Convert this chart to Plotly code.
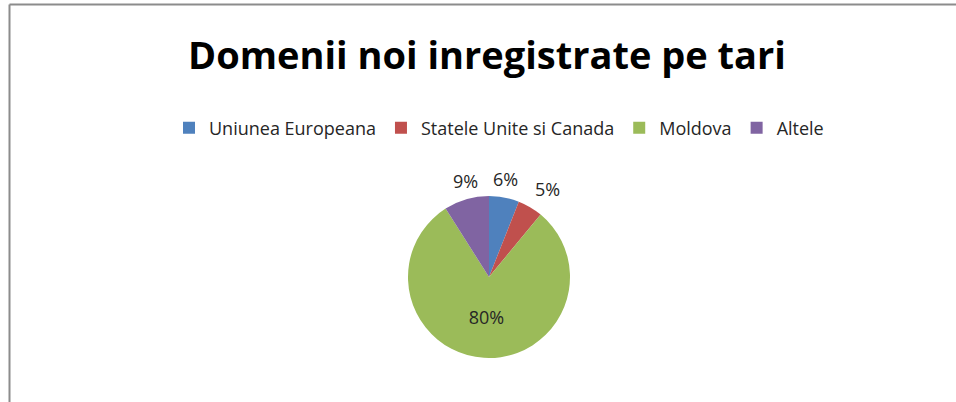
import math
import plotly.graph_objects as go

categories = ["Uniunea Europeana", "Statele Unite si Canada", "Moldova", "Altele"]
values = [6, 5, 80, 9]
colors = ["#4F81BD", "#C0504D", "#9BBB59", "#8064A2"]
label_inside = [False, False, True, False]

W, H = 956, 402
cx, cy, r = 489, 277, 81

total = sum(values)
text_positions = ["inside" if ins else "none" for ins in label_inside]

fig = go.Figure(go.Pie(
    labels=categories,
    values=values,
    sort=False,
    direction="clockwise",
    rotation=0,
    marker=dict(colors=colors, line=dict(width=0)),
    texttemplate="%{percent:.0%}",
    textposition=text_positions,
    insidetextorientation="horizontal",
    textfont=dict(family="Open Sans", size=18, color="#262626"),
    domain=dict(x=[(cx - 100) / W, (cx + 100) / W],
                y=[(H - cy - r) / H, (H - cy + r) / H]),
    hoverinfo="label+percent",
))

# outside data labels, placed just beyond the rim at each slice's mid-angle
annotations = []
cum = 0
for v, ins in zip(values, label_inside):
    mid = (cum + v / 2) / total * 2 * math.pi
    cum += v
    if ins:
        continue
    s, c = math.sin(mid), math.cos(mid)
    px = cx + 1.06 * r * s
    py = cy - 1.06 * r * c
    xa = "center" if abs(s) < 0.35 else ("left" if s > 0 else "right")
    ya = "bottom" if c > 0 else "top"
    annotations.append(dict(
        text=f"{v / total * 100:.0f}%", x=px / W, y=1 - py / H,
        xref="paper", yref="paper", xanchor=xa, yanchor=ya, showarrow=False,
        font=dict(family="Open Sans", size=18, color="#262626"),
    ))

fig.update_layout(
    width=W, height=H,
    margin=dict(l=0, r=0, t=0, b=0),
    paper_bgcolor="white",
    plot_bgcolor="white",
    title=dict(text="<b>Domenii noi inregistrate pe tari</b>",
               x=487 / W, xanchor="center", y=1 - 56 / H, yanchor="middle",
               font=dict(family="Open Sans", size=38, color="#000000")),
    legend=dict(orientation="h", x=499 / W, xanchor="center",
                y=1 - 128 / H, yanchor="middle",
                font=dict(family="Open Sans", size=18, color="#262626"),
                itemsizing="constant", traceorder="normal"),
    annotations=annotations,
    shapes=[
        dict(type="line", xref="paper", yref="paper", x0=9.5 / W, x1=1, y0=1 - 4.5 / H, y1=1 - 4.5 / H,
             line=dict(color="#8c8c8c", width=2)),
        dict(type="line", xref="paper", yref="paper", x0=9.5 / W, x1=9.5 / W, y0=0, y1=1 - 4.5 / H,
             line=dict(color="#8c8c8c", width=2)),
    ],
)

fig.write_html("out.html", config={"displayModeBar": False},
               post_script="document.body.style.margin='0';document.body.style.overflow='hidden';")
